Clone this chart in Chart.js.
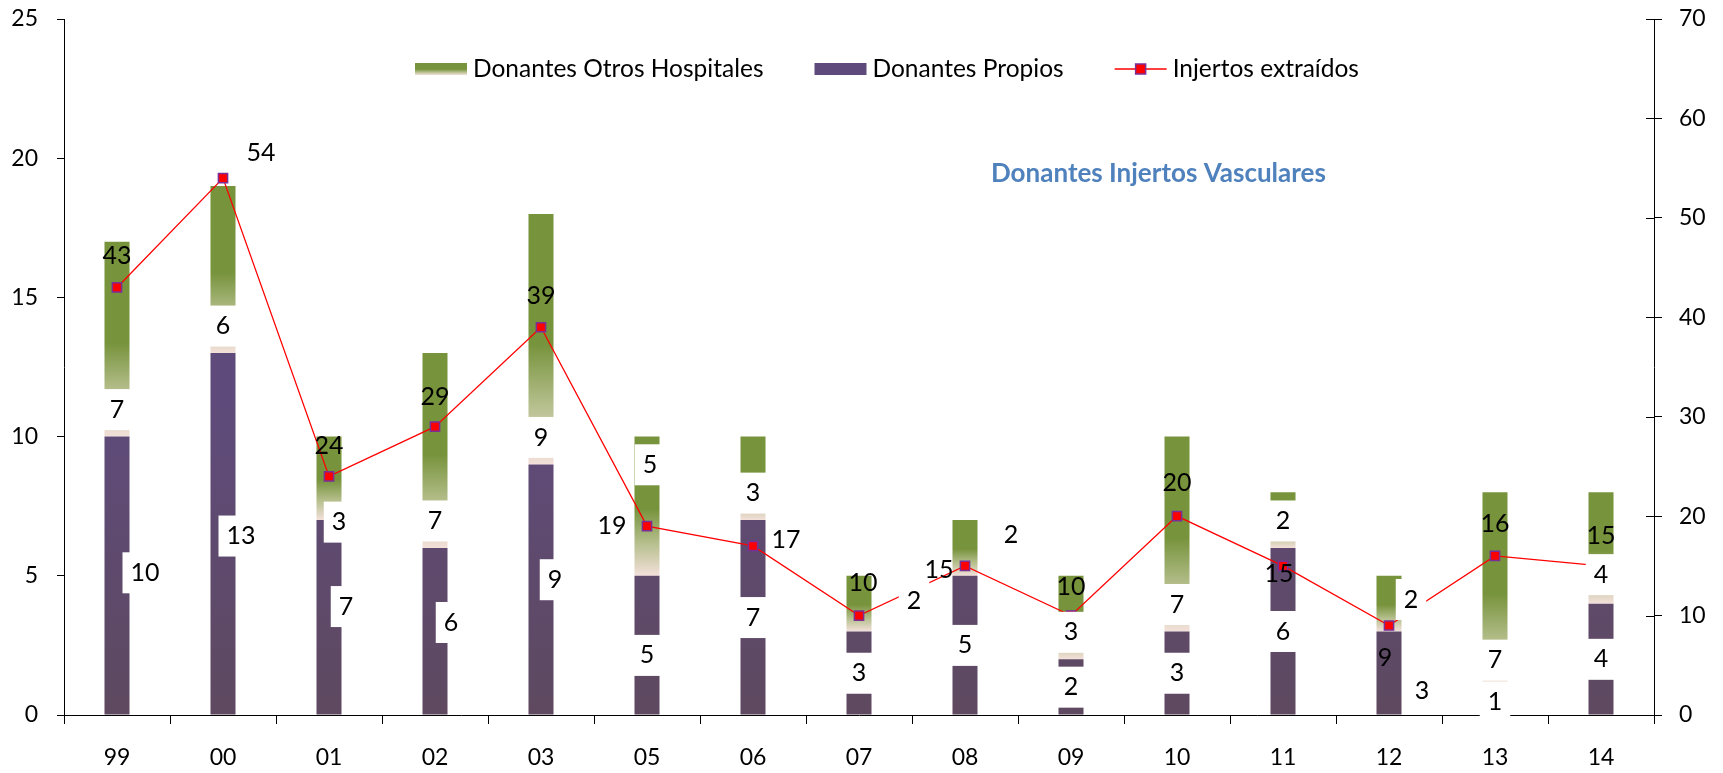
<!DOCTYPE html>
<html>
<head>
<meta charset="utf-8">
<script src="https://cdn.jsdelivr.net/npm/chart.js@4.4.0/dist/chart.umd.min.js"></script>
<style>
  html, body { margin: 0; padding: 0; background: #fff; }
  #wrap { width: 1723px; height: 773px; }
</style>
</head>
<body>
<div id="wrap"><canvas id="donantes-chart"></canvas></div>
<script>
// years on the x axis
const years = ['99', '00', '01', '02', '03', '05', '06', '07', '08', '09', '10', '11', '12', '13', '14'];
// donors from our own hospital (bottom of the stack)
const propios = [10, 13, 7, 6, 9, 5, 7, 3, 5, 2, 3, 6, 3, 1, 4];
// donors coming from other hospitals (top of the stack)
const otros = [7, 6, 3, 7, 9, 5, 3, 2, 2, 3, 7, 2, 2, 7, 4];
// grafts extracted, right axis
const injertos = [43, 54, 24, 29, 39, 19, 17, 10, 15, 10, 20, 15, 9, 16, 15];

// axis ticks
const leftTicks = [0, 5, 10, 15, 20, 25];
const rightTicks = [0, 10, 20, 30, 40, 50, 60, 70];

// hand placement of the value labels, [dx, dy] in px
// propios: from the middle of the purple segment
const propiosNudge = [[28,-3],[18,2],[17,-11],[16,-9],[14,-10],[0,10],[0,0],[0,0],[0,0],[0,0],[0,0],[0,0],[33,18],[0,1],[0,0]];
// otros: from the base of the green segment
const otrosNudge = [[0,-27],[0,-27],[10,2],[0,-27],[0,-27],[3,-111],[0,-27],[55,-31],[46,-41],[0,-27],[0,-27],[0,-27],[22,-32],[0,-27],[0,-29]];
// injertos: from the marker
const injertosNudge = [[0,-32],[38,-25],[0,-30],[0,-30],[0,-31],[-35,0],[33,-6],[4,-33],[-26,4],[0,-29],[0,-33],[-4,8],[-4,32],[0,-32],[0,-30]];

const GREEN = '#77933c';
const GREEN_PALE = '#b4be8b';
const BLUSH = '#f3e0da';
const PURPLE = '#5f4b7b';
const PURPLE_LOW = '#5e4960';
const LINE_RED = '#ff0000';
const MARKER_EDGE = '#7a2f96';

Chart.defaults.font.family = 'Lato';
Chart.defaults.color = '#000';

function greenFade(ctx, top, bottom) {
  const g = ctx.createLinearGradient(0, top, 0, bottom);
  g.addColorStop(0, GREEN);
  g.addColorStop(0.52, GREEN);
  g.addColorStop(0.76, GREEN_PALE);
  g.addColorStop(1, BLUSH);
  return g;
}

function boxed(ctx, text, x, y) {
  const w = ctx.measureText(text).width;
  ctx.fillStyle = '#fff';
  ctx.fillRect(x - w / 2 - 8, y - 20.5, w + 16, 41);
  ctx.fillStyle = '#000';
  ctx.fillText(text, x, y);
}

// fixed axis box sizes; drop the label overhang so the plot reaches the top
function fixWidth(w) {
  return s => { s.width = w; s.paddingTop = 0; s.paddingBottom = 0; };
}

// value labels: white boxes for the bars, plain text for the line
const valueLabels = {
  id: 'valueLabels',
  afterDatasetsDraw(chart) {
    const { ctx, scales: { x, y, y1 } } = chart;
    ctx.save();
    ctx.font = '25px Lato';
    ctx.textAlign = 'center';
    ctx.textBaseline = 'middle';
    years.forEach((yr, i) => {
      const cx = x.getPixelForValue(i);
      const mid = y.getPixelForValue(propios[i] / 2);
      boxed(ctx, String(propios[i]), cx + propiosNudge[i][0], mid + propiosNudge[i][1]);
    });
    years.forEach((yr, i) => {
      const cx = x.getPixelForValue(i);
      const base = y.getPixelForValue(propios[i]);
      boxed(ctx, String(otros[i]), cx + otrosNudge[i][0], base + otrosNudge[i][1]);
    });
    ctx.fillStyle = '#000';
    years.forEach((yr, i) => {
      const px = x.getPixelForValue(i);
      const py = y1.getPixelForValue(injertos[i]);
      ctx.fillText(String(injertos[i]), px + injertosNudge[i][0], py + injertosNudge[i][1]);
    });
    ctx.restore();
  }
};

// legend + inner title, plus the right axis ticks crossing to the inside
const decorations = {
  id: 'decorations',
  afterDraw(chart) {
    const { ctx, scales: { y1 } } = chart;
    ctx.save();

    ctx.strokeStyle = '#000';
    ctx.lineWidth = 1;
    y1.ticks.forEach(t => {
      const py = Math.round(y1.getPixelForValue(t.value)) + 0.5;
      ctx.beginPath();
      ctx.moveTo(y1.left - 8, py);
      ctx.lineTo(y1.left, py);
      ctx.stroke();
    });

    const ds = chart.data.datasets;
    const items = [ds[2], ds[1], ds[0]];
    ctx.font = '24.5px Lato';
    ctx.textBaseline = 'middle';
    ctx.textAlign = 'left';
    let lx = 415;
    const ly = 69;
    items.forEach(d => {
      if (d.type === 'line') {
        ctx.strokeStyle = LINE_RED;
        ctx.lineWidth = 1.5;
        ctx.beginPath();
        ctx.moveTo(lx, ly);
        ctx.lineTo(lx + 52, ly);
        ctx.stroke();
        ctx.fillStyle = LINE_RED;
        ctx.fillRect(lx + 21, ly - 5, 10, 10);
        ctx.strokeStyle = MARKER_EDGE;
        ctx.lineWidth = 1.5;
        ctx.strokeRect(lx + 21, ly - 5, 10, 10);
      } else if (d.label === 'Donantes Otros Hospitales') {
        ctx.fillStyle = greenFade(ctx, ly - 6, ly + 6);
        ctx.fillRect(lx, ly - 6, 52, 12);
      } else {
        ctx.fillStyle = PURPLE;
        ctx.fillRect(lx, ly - 6, 52, 12);
      }
      ctx.fillStyle = '#000';
      ctx.fillText(d.label, lx + 58, ly);
      lx += 58 + ctx.measureText(d.label).width + 51;
    });

    ctx.font = 'bold 26px Lato';
    ctx.fillStyle = '#4f81bd';
    ctx.fillText('Donantes Injertos Vasculares', 991, 174);
    ctx.restore();
  }
};

new Chart(document.getElementById('donantes-chart').getContext('2d'), {
  data: {
    labels: years,
    datasets: [
      {
        type: 'line',
        label: 'Injertos extraídos',
        data: injertos,
        yAxisID: 'y1',
        order: 0,
        borderColor: LINE_RED,
        borderWidth: 1.3,
        tension: 0,
        pointStyle: 'rect',
        pointRadius: 6.5,
        pointBackgroundColor: LINE_RED,
        pointBorderColor: MARKER_EDGE,
        pointBorderWidth: 1.5
      },
      {
        type: 'bar',
        label: 'Donantes Propios',
        data: propios,
        yAxisID: 'y',
        order: 1,
        barPercentage: 0.236,
        categoryPercentage: 1,
        backgroundColor: c => {
          const area = c.chart.chartArea;
          if (!area) return PURPLE;
          const g = c.chart.ctx.createLinearGradient(0, area.bottom, 0, area.top);
          g.addColorStop(0, PURPLE_LOW);
          g.addColorStop(0.45, PURPLE);
          g.addColorStop(1, PURPLE);
          return g;
        }
      },
      {
        type: 'bar',
        label: 'Donantes Otros Hospitales',
        data: otros,
        yAxisID: 'y',
        order: 1,
        barPercentage: 0.236,
        categoryPercentage: 1,
        backgroundColor: c => {
          const chart = c.chart;
          if (!chart.chartArea || c.type !== 'data') return GREEN;
          const i = c.dataIndex;
          const top = chart.scales.y.getPixelForValue(propios[i] + otros[i]);
          const base = chart.scales.y.getPixelForValue(propios[i]);
          if (!isFinite(top) || !isFinite(base)) return GREEN;
          return greenFade(chart.ctx, top, base);
        }
      }
    ]
  },
  options: {
    responsive: true,
    maintainAspectRatio: false,
    animation: false,
    layout: { padding: { top: 19, left: 0, right: 0, bottom: 0 } },
    plugins: {
      legend: { display: false },
      tooltip: { enabled: false }
    },
    scales: {
      x: {
        stacked: true,
        grid: { drawOnChartArea: false, tickLength: 9, color: '#000', offset: true },
        border: { color: '#000' },
        ticks: { font: { size: 23 }, padding: 20, color: '#000' },
        afterFit: s => { s.height = 58; }
      },
      y: {
        stacked: true,
        position: 'left',
        min: leftTicks[0],
        max: leftTicks[leftTicks.length - 1],
        grid: { drawOnChartArea: false, tickLength: 7, color: '#000' },
        border: { color: '#000' },
        ticks: { stepSize: leftTicks[1] - leftTicks[0], font: { size: 23 }, padding: 19, color: '#000' },
        afterFit: fixWidth(64)
      },
      y1: {
        position: 'right',
        min: rightTicks[0],
        max: rightTicks[rightTicks.length - 1],
        grid: { drawOnChartArea: false, tickLength: 8, color: '#000' },
        border: { color: '#000' },
        ticks: { stepSize: rightTicks[1] - rightTicks[0], font: { size: 23 }, padding: 17, color: '#000' },
        afterFit: fixWidth(69)
      }
    }
  },
  plugins: [valueLabels, decorations]
});
</script>
</body>
</html>
